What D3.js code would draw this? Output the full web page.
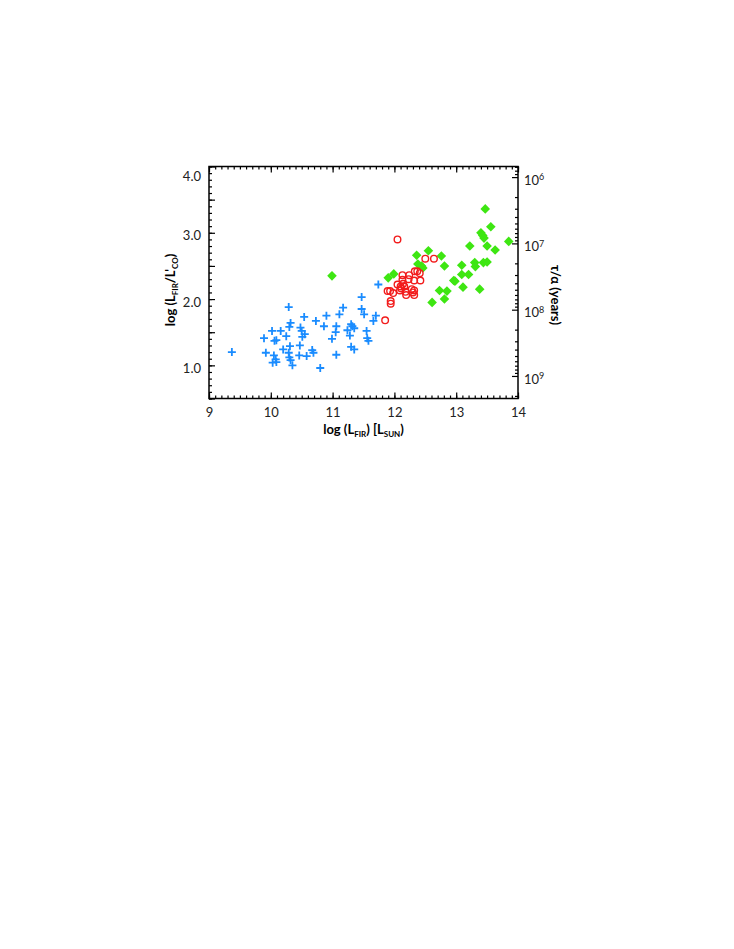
<!DOCTYPE html>
<html>
<head>
<meta charset="utf-8">
<script src="https://cdn.jsdelivr.net/npm/d3@7"></script>
<style>
  body { margin: 0; background: #fff; }
  svg text { font-family: "Lato", "DejaVu Sans", sans-serif; }
  .tick text { font-size: 13px; fill: #222; }
  .axis path.domain { display: none; }
  .axis line { stroke: #000; stroke-width: 1.2; }
  .title { font-size: 13px; font-weight: bold; fill: #000; }
</style>
</head>
<body>
<svg id="chart" width="734" height="949"></svg>
<script>
// log(L_FIR) values, log(L_FIR/L'_CO) values for each sample
let crossX = [9.37, 9.89, 9.92, 10.02, 10.03, 10.06, 10.09, 10.05, 10.08, 10.09, 10.16, 10.20, 10.25, 10.29,
  10.32, 10.30, 10.31, 10.30, 10.32, 10.35, 10.29, 10.48, 10.50, 10.51, 10.55, 10.54, 10.47, 10.46, 10.58,
  10.67, 10.69, 10.73, 10.90, 10.86, 10.80, 10.99, 11.06, 11.05, 11.06, 11.11, 11.17, 11.24, 11.28, 11.30,
  11.32, 11.35, 11.30, 11.35, 11.47, 11.47, 11.51, 11.55, 11.56, 11.58, 11.66, 11.70, 11.74];
let crossY = [1.20, 1.41, 1.19, 1.52, 1.04, 1.37, 1.38, 1.15, 1.09, 1.05, 1.52, 1.24, 1.44, 1.88,
  1.64, 1.58, 1.29, 1.12, 1.08, 1.00, 1.19, 1.57, 1.52, 1.43, 1.47, 1.73, 1.30, 1.15, 1.14,
  1.23, 1.19, 1.67, 1.75, 1.59, 0.96, 1.40, 1.59, 1.50, 1.16, 1.77, 1.87, 1.53, 1.45, 1.62,
  1.59, 1.56, 1.28, 1.24, 2.03, 1.85, 1.77, 1.52, 1.41, 1.37, 1.67, 1.75, 2.22];

let circleX = [12.05, 11.85, 11.89, 11.93, 11.98, 11.94, 11.94, 12.05, 12.09, 12.11, 12.13, 12.13, 12.16,
  12.14, 12.19, 12.23, 12.24, 12.28, 12.30, 12.32, 12.32, 12.32, 12.33, 12.37, 12.41, 12.42, 12.50, 12.64,
  12.10, 12.18];
let circleY = [2.90, 1.68, 2.12, 2.12, 2.09, 1.97, 1.93, 2.22, 2.13, 2.16, 2.36, 2.29, 2.19,
  2.23, 2.06, 2.30, 2.36, 2.15, 2.10, 2.13, 2.06, 2.28, 2.42, 2.42, 2.39, 2.28, 2.61, 2.61,
  2.19, 2.11];

let diamondX = [10.99, 11.90, 11.99, 12.36, 12.55, 12.38, 12.44, 12.46, 12.61, 12.73, 12.76, 12.81, 12.81,
  12.85, 12.96, 12.98, 13.09, 13.09, 13.11, 13.20, 13.22, 13.30, 13.31, 13.38, 13.40, 13.43, 13.45, 13.47,
  13.44, 13.50, 13.50, 13.56, 13.63, 13.85];
let diamondY = [2.35, 2.32, 2.38, 2.66, 2.73, 2.53, 2.50, 2.47, 1.95, 2.13, 2.65, 2.50, 2.00,
  2.12, 2.28, 2.27, 2.51, 2.37, 2.18, 2.37, 2.80, 2.55, 2.49, 2.15, 3.00, 2.96, 2.92, 3.36,
  2.55, 2.56, 2.80, 3.09, 2.74, 2.87];

let xTicks = [9, 10, 11, 12, 13, 14];
let yTicks = [1.0, 2.0, 3.0, 4.0];
let rightTicks = [6, 7, 8, 9]; // exponents of tau/alpha in years

let plotL = 209, plotR = 518, plotT = 166.5, plotB = 398.5;
let svg = d3.select("#chart");

let x = d3.scaleLinear().domain([9, 14]).range([plotL, plotR]);
let y = d3.scaleLinear().domain([0.5, 4.0]).range([plotB, plotT]);
// tau/alpha scales inversely with L_FIR/L'_CO
let yr = d3.scaleLog().domain([Math.pow(10, 9.34), Math.pow(10, 5.84)]).range([plotB, plotT]);

let minorX = d3.range(90, 141).map(v => v / 10);
let minorY = d3.range(5, 41).map(v => v / 10);

// bottom axis
svg.append("g").attr("class", "axis")
  .attr("transform", `translate(0,${plotB})`)
  .call(d3.axisBottom(x).tickValues(minorX).tickSize(-3).tickFormat(""));
svg.append("g").attr("class", "axis")
  .attr("transform", `translate(0,${plotB})`)
  .call(d3.axisBottom(x).tickValues(xTicks).tickSize(-6).tickPadding(9).tickFormat(d3.format("d")));
// top axis
svg.append("g").attr("class", "axis")
  .attr("transform", `translate(0,${plotT})`)
  .call(d3.axisTop(x).tickValues(minorX).tickSize(-3).tickFormat(""));
svg.append("g").attr("class", "axis")
  .attr("transform", `translate(0,${plotT})`)
  .call(d3.axisTop(x).tickValues(xTicks).tickSize(-6).tickFormat(""));

// left axis
svg.append("g").attr("class", "axis")
  .attr("transform", `translate(${plotL},0)`)
  .call(d3.axisLeft(y).tickValues(minorY).tickSize(-3).tickFormat(""));
svg.append("g").attr("class", "axis")
  .attr("transform", `translate(${plotL},0)`)
  .call(d3.axisLeft(y).tickValues([0.5, 1.5, 2.5, 3.5]).tickSize(-6).tickFormat(""));
let yAx = svg.append("g").attr("class", "axis")
  .attr("transform", `translate(${plotL},0)`)
  .call(d3.axisLeft(y).tickValues(yTicks).tickSize(-6).tickPadding(8).tickFormat(d3.format(".1f")));
yAx.selectAll(".tick text").attr("dy", d => d == 4.0 ? "1.05em" : "0.55em");

// right axis (log)
let minorR = [];
for (let e = 5; e <= 9; e++) {
  for (let m = 2; m <= 9; m++) {
    let v = m * Math.pow(10, e);
    if (v > yr.domain()[1] && v < yr.domain()[0]) minorR.push(v);
  }
}
svg.append("g").attr("class", "axis")
  .attr("transform", `translate(${plotR},0)`)
  .call(d3.axisRight(yr).tickValues(minorR).tickSize(-3).tickFormat(""));
let rAx = svg.append("g").attr("class", "axis")
  .attr("transform", `translate(${plotR},0)`)
  .call(d3.axisRight(yr).tickValues(rightTicks.map(e => Math.pow(10, e))).tickSize(-6).tickPadding(6).tickFormat(""));
rAx.selectAll(".tick").append("text")
  .attr("x", 6).attr("dy", "0.55em")
  .attr("text-anchor", "start")
  .each(function (d) {
    let t = d3.select(this);
    t.append("tspan").text("10");
    t.append("tspan").attr("dy", "-0.5em").attr("font-size", "9px")
      .text(Math.round(Math.log10(d)));
  });

// frame
svg.append("rect")
  .attr("x", plotL).attr("y", plotT)
  .attr("width", plotR - plotL).attr("height", plotB - plotT)
  .attr("fill", "none").attr("stroke", "#000").attr("stroke-width", 1.5);

// data
let crosses = d3.zip(crossX, crossY);
svg.append("g").selectAll("path.cross")
  .data(crosses)
  .enter()
  .append("path")
  .attr("class", "cross")
  .attr("d", "M-4,0H4M0,-4V4")
  .attr("transform", d => `translate(${x(d[0])},${y(d[1])})`)
  .attr("stroke", "#1a8cff")
  .attr("stroke-width", 1.8)
  .attr("fill", "none");

let diamonds = d3.zip(diamondX, diamondY);
svg.append("g").selectAll("path.diamond")
  .data(diamonds)
  .enter()
  .append("path")
  .attr("class", "diamond")
  .attr("d", "M0,-4.8L4.8,0L0,4.8L-4.8,0Z")
  .attr("transform", d => `translate(${x(d[0])},${y(d[1])})`)
  .attr("fill", "#3ee612");

let circles = d3.zip(circleX, circleY);
svg.append("g").selectAll("circle.red")
  .data(circles)
  .enter()
  .append("circle")
  .attr("class", "red")
  .attr("cx", d => x(d[0]))
  .attr("cy", d => y(d[1]))
  .attr("r", 3.3)
  .attr("fill", "none")
  .attr("stroke", "#f21c1c")
  .attr("stroke-width", 1.4);

// titles
let xt = svg.append("text").attr("class", "title")
  .attr("x", (plotL + plotR) / 2).attr("y", 434)
  .attr("text-anchor", "middle");
xt.append("tspan").text("log (L");
xt.append("tspan").attr("dy", 3).attr("font-size", "8px").text("FIR");
xt.append("tspan").attr("dy", -3).text(") [L");
xt.append("tspan").attr("dy", 3).attr("font-size", "8px").text("SUN");
xt.append("tspan").attr("dy", -3).text(")");

let ytl = svg.append("text").attr("class", "title")
  .attr("transform", "translate(175,290) rotate(-90)")
  .attr("text-anchor", "middle");
ytl.append("tspan").text("log (L");
ytl.append("tspan").attr("dy", 3).attr("font-size", "8px").text("FIR");
ytl.append("tspan").attr("dy", -3).text("/L'");
ytl.append("tspan").attr("dy", 3).attr("font-size", "8px").text("CO");
ytl.append("tspan").attr("dy", -3).text(")");

svg.append("text").attr("class", "title")
  .attr("transform", "translate(551,295) rotate(90)")
  .attr("text-anchor", "middle")
  .text("τ/α (years)");
</script>
</body>
</html>
